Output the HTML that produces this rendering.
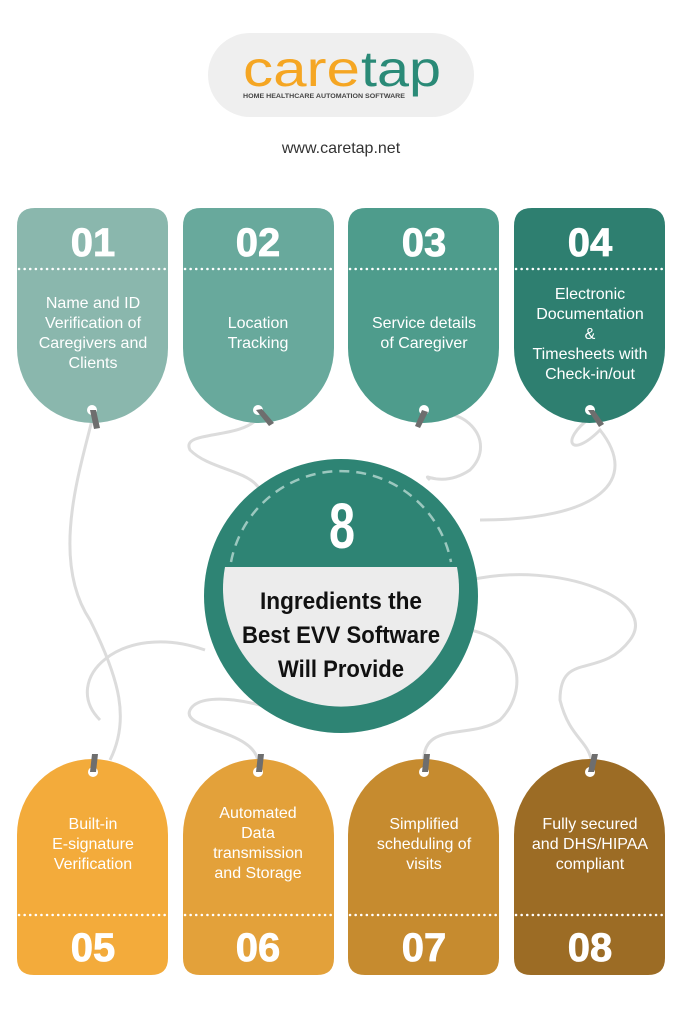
<!DOCTYPE html>
<html><head><meta charset="utf-8"><style>
html,body{margin:0;padding:0;background:#fff}
svg{display:block}
.t{font-family:"Liberation Sans",sans-serif;fill:#fff;text-anchor:middle}
.d{font-family:"Liberation Sans",sans-serif;font-weight:bold;fill:#fff;text-anchor:middle;font-size:40px;stroke:#fff;stroke-width:0.8}
</style></head><body>
<svg width="683" height="1024" viewBox="0 0 683 1024" xmlns="http://www.w3.org/2000/svg">
<rect width="683" height="1024" fill="#fff"/>
<rect x="208" y="33" width="266" height="84" rx="42" fill="#efefef"/>
<text x="243" y="86" font-family="Liberation Sans,sans-serif" font-size="50" fill="#f5a623" textLength="117" lengthAdjust="spacingAndGlyphs">care</text>
<text x="361" y="86" font-family="Liberation Sans,sans-serif" font-size="50" fill="#2a8a77" textLength="80" lengthAdjust="spacingAndGlyphs">tap</text>
<text x="243" y="98" font-family="Liberation Sans,sans-serif" font-size="6.5" font-weight="bold" fill="#444" textLength="162" lengthAdjust="spacingAndGlyphs">HOME HEALTHCARE AUTOMATION SOFTWARE</text>
<text x="341" y="153" font-family="Liberation Sans,sans-serif" font-size="16" fill="#333" text-anchor="middle">www.caretap.net</text>

<g fill="none" stroke="#dcdcdc" stroke-width="3">
<path d="M92 420 C80 470 50 560 90 620 C120 680 130 720 110 760"/>
<path d="M258 418 C240 440 180 430 190 450 C210 470 250 470 260 490"/>
<path d="M424 418 C460 400 500 440 470 470 C440 490 420 470 430 480"/>
<path d="M590 418 C560 440 570 460 600 430 C640 480 600 520 480 520"/>
<path d="M470 580 C560 560 660 600 630 640 C600 680 560 650 560 700 C570 740 590 740 592 765"/>
<path d="M205 650 C120 620 60 680 100 720"/>
<path d="M258 765 C260 730 180 730 190 710 C200 690 260 700 300 720"/>
<path d="M424 765 C420 720 470 740 500 720 C530 690 520 640 470 630"/>
</g>

<path d="M17 226 Q17 208 35 208 H150 Q168 208 168 226 V348 A75.5 75 0 0 1 17 348 Z" fill="#8ab7ad"/>
<path d="M183 226 Q183 208 201 208 H316 Q334 208 334 226 V348 A75.5 75 0 0 1 183 348 Z" fill="#68a99c"/>
<path d="M348 226 Q348 208 366 208 H481 Q499 208 499 226 V348 A75.5 75 0 0 1 348 348 Z" fill="#4e9c8c"/>
<path d="M514 226 Q514 208 532 208 H647 Q665 208 665 226 V348 A75.5 75 0 0 1 514 348 Z" fill="#2e7f70"/>

<path d="M17 835 A75.5 76 0 0 1 168 835 V958 Q168 975 151 975 H34 Q17 975 17 958 Z" fill="#f3ab3b"/>
<path d="M183 835 A75.5 76 0 0 1 334 835 V958 Q334 975 317 975 H200 Q183 975 183 958 Z" fill="#e3a13a"/>
<path d="M348 835 A75.5 76 0 0 1 499 835 V958 Q499 975 482 975 H365 Q348 975 348 958 Z" fill="#c68b2f"/>
<path d="M514 835 A75.5 76 0 0 1 665 835 V958 Q665 975 648 975 H531 Q514 975 514 958 Z" fill="#9c6c25"/>

<g stroke="#fff" stroke-width="2.5" stroke-dasharray="0.1 5.5" stroke-linecap="round">
<line x1="19" y1="269" x2="168" y2="269"/><line x1="185" y1="269" x2="334" y2="269"/>
<line x1="350" y1="269" x2="499" y2="269"/><line x1="516" y1="269" x2="665" y2="269"/>
<line x1="19" y1="915" x2="168" y2="915"/><line x1="185" y1="915" x2="334" y2="915"/>
<line x1="350" y1="915" x2="499" y2="915"/><line x1="516" y1="915" x2="665" y2="915"/>
</g>
<text class="d" x="93" y="256">01</text>
<text class="d" x="258" y="256">02</text>
<text class="d" x="424" y="256">03</text>
<text class="d" x="590" y="256">04</text>
<g font-size="16">
<text class="t" x="93" y="308">Name and ID</text>
<text class="t" x="93" y="328">Verification of</text>
<text class="t" x="93" y="348">Caregivers and</text>
<text class="t" x="93" y="368">Clients</text>
<text class="t" x="258" y="328">Location</text>
<text class="t" x="258" y="348">Tracking</text>
<text class="t" x="424" y="328">Service details</text>
<text class="t" x="424" y="348">of Caregiver</text>
<text class="t" x="590" y="299">Electronic</text>
<text class="t" x="590" y="319">Documentation</text>
<text class="t" x="590" y="339">&amp;</text>
<text class="t" x="590" y="359">Timesheets with</text>
<text class="t" x="590" y="379">Check-in/out</text>
</g>
<text class="d" x="93" y="961">05</text>
<text class="d" x="258" y="961">06</text>
<text class="d" x="424" y="961">07</text>
<text class="d" x="590" y="961">08</text>
<g font-size="16">
<text class="t" x="93" y="829">Built-in</text>
<text class="t" x="93" y="849">E-signature</text>
<text class="t" x="93" y="869">Verification</text>
<text class="t" x="258" y="818">Automated</text>
<text class="t" x="258" y="838">Data</text>
<text class="t" x="258" y="858">transmission</text>
<text class="t" x="258" y="878">and Storage</text>
<text class="t" x="424" y="829">Simplified</text>
<text class="t" x="424" y="849">scheduling of</text>
<text class="t" x="424" y="869">visits</text>
<text class="t" x="590" y="829">Fully secured</text>
<text class="t" x="590" y="849">and DHS/HIPAA</text>
<text class="t" x="590" y="869">compliant</text>
</g>

<g fill="#fff">
<circle cx="92" cy="410" r="5"/><circle cx="258" cy="410" r="5"/><circle cx="424" cy="410" r="5"/><circle cx="590" cy="410" r="5"/>
<circle cx="93" cy="772" r="5"/><circle cx="258" cy="772" r="5"/><circle cx="424" cy="772" r="5"/><circle cx="590" cy="772" r="5"/>
</g>
<g fill="#6e6e6e">
<path d="M90 410 l6 0 l4 18 l-6 1 Z"/><path d="M256 410 l6 -1 l12 14 l-5 3 Z"/>
<path d="M422 410 l6 2 l-8 16 l-5 -2 Z"/><path d="M588 410 l6 0 l10 14 l-5 3 Z"/>
<path d="M90 772 l6 0 l2 -18 l-6 0 Z"/><path d="M256 772 l6 0 l2 -18 l-6 0 Z"/>
<path d="M422 772 l6 0 l2 -18 l-6 0 Z"/><path d="M588 772 l6 0 l4 -18 l-6 0 Z"/>
</g>

<circle cx="341" cy="596" r="137" fill="#2e8474"/>
<path d="M225 567 A118 118 0 1 0 457 567 Z" fill="#ececec"/>
<path d="M231 562 A112 112 0 0 1 451 562" fill="none" stroke="#9cc8bf" stroke-width="2.5" stroke-dasharray="10 7"/>
<text x="329" y="548" font-family="Liberation Sans,sans-serif" font-weight="bold" font-size="64" fill="#fff" textLength="26" lengthAdjust="spacingAndGlyphs">8</text>
<g font-family="Liberation Sans,sans-serif" font-weight="bold" font-size="24" fill="#111">
<text x="260" y="609" textLength="162" lengthAdjust="spacingAndGlyphs">Ingredients the</text>
<text x="242" y="643" textLength="198" lengthAdjust="spacingAndGlyphs">Best EVV Software</text>
<text x="278" y="677" textLength="126" lengthAdjust="spacingAndGlyphs">Will Provide</text>
</g>
</svg>
</body></html>
